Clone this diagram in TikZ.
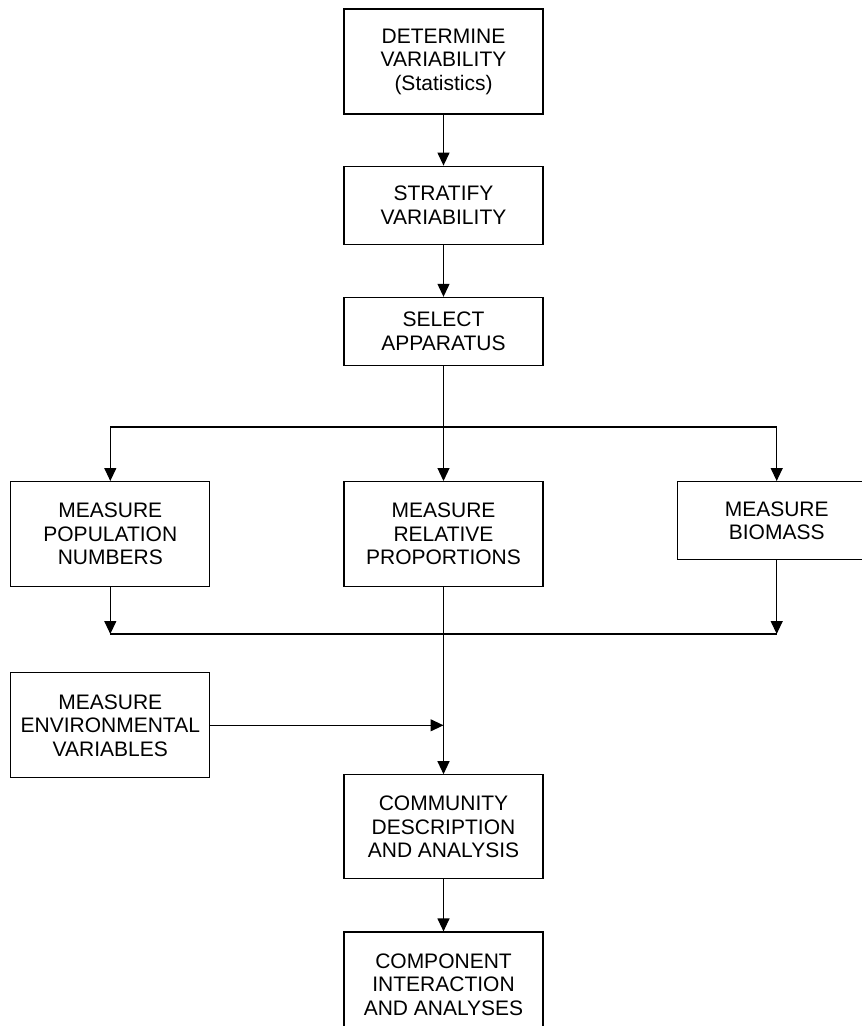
\documentclass[tikz,border=0pt]{standalone}
\usepackage{fontspec}
\setmainfont{Liberation Sans}
\usetikzlibrary{positioning,arrows.meta}
\begin{document}
\begin{tikzpicture}[x=1pt, y=-1pt, line width=1.2pt,
        box/.style = {draw, align=center, minimum width=199pt, inner sep=0pt,
                      font=\fontsize{21}{23.5}\selectfont},
        >={Triangle[length=13pt,width=12pt]}]
        \clip (0,0) rectangle (862,1026);
        \node[box, minimum height=105pt] (determine) at (443.5,61.5) {DETERMINE\\VARIABILITY\\(Statistics)};
        \node[box, minimum height=78pt] (stratify) [below=51pt of determine] {STRATIFY\\VARIABILITY};
        \node[box, minimum height=68pt] (select) [below=52pt of stratify] {SELECT\\APPARATUS};
        \node[box, minimum height=105pt] (relative) [below=115pt of select] {MEASURE\\RELATIVE\\PROPORTIONS};
        \node[box, minimum height=105pt] (population) [left=133pt of relative] {MEASURE\\POPULATION\\NUMBERS};
        \node[box, minimum height=78pt] (biomass) [right=133pt of relative.north east, anchor=north west] {MEASURE\\BIOMASS};
        \node[box, minimum height=105pt] (environment) [below=85pt of population] {MEASURE\\ENVIRONMENTAL\\VARIABLES};
        \node[box, minimum height=104pt] (community) [below=187pt of relative] {COMMUNITY\\DESCRIPTION\\AND ANALYSIS};
        \node[box, minimum height=105pt] (component) [below=52pt of community] {COMPONENT\\INTERACTION\\AND ANALYSES};
        \coordinate (split) at (443.5,427);
        \coordinate (join) at (443.5,634);
        %
        \draw[->] (determine) -- (stratify);
        \draw[->] (stratify) -- (select);
        \draw[->] (select) -- (relative);
        \draw[->] (split) -| (population);
        \draw[->] (split) -| (biomass);
        \draw[->] (population) -- (population |- join);
        \draw[->] (biomass) -- (biomass |- join);
        \draw (population |- join) -- (biomass |- join);
        \draw[->] (relative) -- (community);
        \draw[->] (environment) -- (environment -| relative);
        \draw[->] (community) -- (component);
      \end{tikzpicture}
\end{document}
